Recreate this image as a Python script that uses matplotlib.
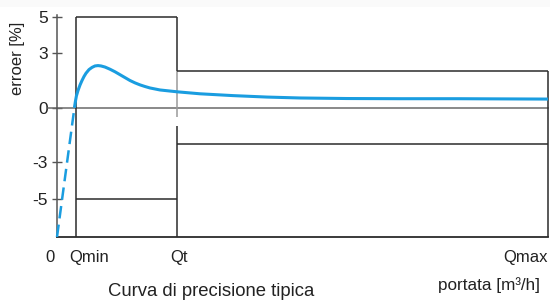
import matplotlib
matplotlib.use("Agg")
import matplotlib.pyplot as plt
from matplotlib.patches import Rectangle

plt.rcParams["font.family"] = ["Liberation Sans", "DejaVu Sans"]

# portate caratteristiche (unità arbitrarie sull'asse x)
Q_MIN = 0.95
Q_T = 6.0
Q_MAX = 24.55

# limiti di errore ammessi [%]
LIM_BASSO = 5       # tra Qmin e Qt
LIM_ALTO = 2        # tra Qt e Qmax

# curva tipica: tratto tratteggiato sotto Qmin
x_dash = [0.0, 0.87]
y_dash = [-7.1, 0.0]

# curva tipica: tratto continuo
x_curve = [0.87, 0.92, 0.97, 1.05, 1.15, 1.25, 1.35, 1.45, 1.6, 1.75, 1.9,
           2.05, 2.2, 2.4, 2.65, 2.9, 3.15, 3.4, 3.65, 3.9, 4.15, 4.4, 4.65,
           5.15, 6.0, 7.15, 8.8, 10.5, 12.15, 14.5, 17.15, 20.0, 22.15, 24.55]
y_curve = [0.0, 0.35, 0.65, 0.95, 1.25, 1.5, 1.72, 1.9, 2.1, 2.22, 2.3,
           2.32, 2.3, 2.24, 2.12, 1.98, 1.82, 1.66, 1.5, 1.37, 1.26, 1.17, 1.09,
           0.98, 0.88, 0.77, 0.67, 0.59, 0.54, 0.51, 0.50, 0.50, 0.49, 0.48]

yticks = [5, 3, 0, -3, -5]

BLU = "#1a9de0"
NERO = "#2b2b2b"
GRIGIO = "#6a6a6a"
TESTO = "#222222"

fig = plt.figure(figsize=(5.5, 3.04), dpi=100)
fig.patches.append(Rectangle((0, 1 - 7 / 304), 1, 7 / 304, transform=fig.transFigure,
                             facecolor="#fafafa", edgecolor="none", zorder=0))

ax = fig.add_axes([57 / 550, 1 - 237 / 304, 491 / 550, (237 - 15) / 304])
ax.set_xlim(0, Q_MAX)
ax.set_ylim(-7.1, 5.1)

for s in ("top", "right"):
    ax.spines[s].set_visible(False)
ax.spines["left"].set_color("#555555")
ax.spines["bottom"].set_color(NERO)
ax.spines["left"].set_linewidth(1.1)
ax.spines["bottom"].set_linewidth(1.3)

ax.set_xticks([])
ax.set_yticks(yticks)
ax.set_yticklabels([str(v) for v in yticks])
ax.tick_params(axis="y", direction="inout", length=7, width=1.0, color="#555555",
               labelsize=12.5, pad=3, labelcolor=TESTO)

# linea dello zero
ax.plot([-0.45, Q_MAX], [0, 0], color=GRIGIO, lw=1.1, clip_on=False, zorder=2)

ylo = ax.get_ylim()[0]
# campo Qmin - Qt
ax.vlines(Q_MIN, ylo, LIM_BASSO, color=NERO, lw=1.1, clip_on=False)
ax.hlines([LIM_BASSO, -LIM_BASSO], Q_MIN, Q_T, color=NERO, lw=1.1, clip_on=False)
# linea Qt (interrotta vicino allo zero)
ax.vlines(Q_T, LIM_ALTO, LIM_BASSO, color=NERO, lw=1.1, clip_on=False)
ax.vlines(Q_T, -0.5, LIM_ALTO, color="#9a9a9a", lw=1.1, clip_on=False)
ax.vlines(Q_T, ylo, -1.0, color=NERO, lw=1.1, clip_on=False)
# campo Qt - Qmax
ax.hlines([LIM_ALTO, -LIM_ALTO], Q_T, Q_MAX, color=NERO, lw=1.1, clip_on=False)
ax.vlines(Q_MAX, ylo, LIM_ALTO, color=NERO, lw=1.1, clip_on=False)

# curva tipica
ax.plot(x_dash, y_dash, color=BLU, lw=1.8, dashes=(5, 2.5), clip_on=False, zorder=3)
ax.plot(x_curve, y_curve, color=BLU, lw=2.2, solid_capstyle="butt",
        solid_joinstyle="round", zorder=4, clip_on=False)

# etichette asse x
lab = dict(xycoords=("data", "axes fraction"), textcoords="offset points",
           fontsize=12, va="center", color=TESTO)
ax.annotate("0", xy=(0, 0), xytext=(-1.5, -14.5), ha="right", **lab)
ax.annotate("Qmin", xy=(Q_MIN, 0), xytext=(9.5, -14.5), ha="center", **lab)
ax.annotate("Qt", xy=(Q_T, 0), xytext=(1.5, -14.5), ha="center", **lab)
ax.annotate("Qmax", xy=(Q_MAX, 0), xytext=(-0.5, -14.5), ha="right", **lab)

fig.text(540 / 550, 1 - 285 / 304, "portata [m³/h]", ha="right", va="center",
         fontsize=12.3, color=TESTO)
fig.text(211 / 550, 1 - 292 / 304, "Curva di precisione tipica", ha="center",
         va="center", fontsize=13.3, color=TESTO)
fig.text(18 / 550, 1 - 58 / 304, "erroer [%]", rotation=90, ha="center",
         va="center", fontsize=12, color=TESTO)

fig.savefig("out.png", dpi=100)
